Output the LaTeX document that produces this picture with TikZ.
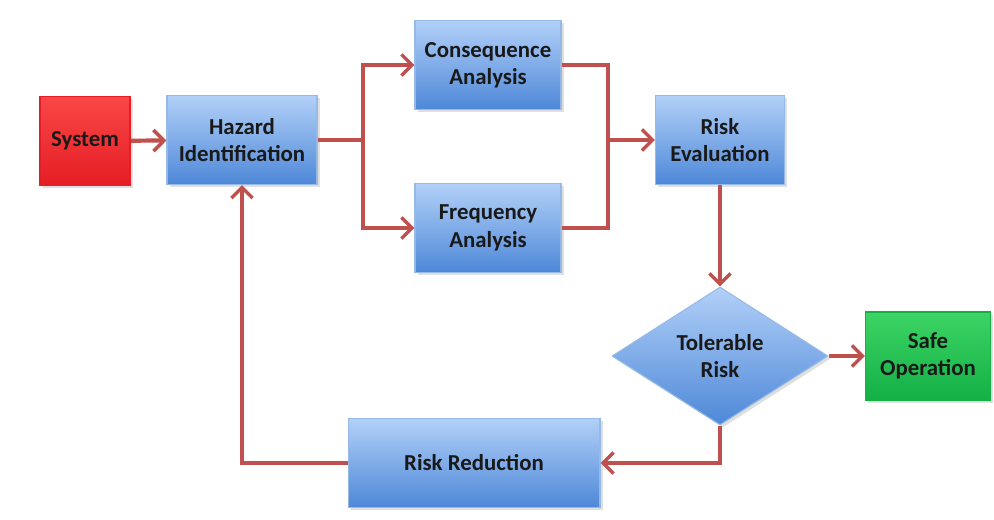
\documentclass[tikz,border=0pt]{standalone}
\usepackage{fontspec}
\setmainfont{Carlito}
\usetikzlibrary{arrows.meta,shapes.geometric,shadows}
\definecolor{linkred}{RGB}{192,80,77}
\definecolor{boxtop}{RGB}{178,208,248}
\definecolor{boxbot}{RGB}{78,136,216}
\definecolor{boxedge}{RGB}{150,185,230}
\definecolor{systop}{RGB}{250,70,70}
\definecolor{sysbot}{RGB}{228,30,36}
\definecolor{safetop}{RGB}{60,212,100}
\definecolor{safebot}{RGB}{20,176,70}

\begin{document}
\begin{tikzpicture}[x=0.02cm, y=-0.02cm,
    >={Straight Barb[length=6pt,width=12pt,line width=2pt]},
    every node/.style={font=\bfseries\fontsize{13}{15.5}\selectfont, text=black!90, align=center},
    box/.style={rectangle, draw=boxedge, line width=0.6pt, top color=boxtop, bottom color=boxbot,
        minimum height=1.78cm, inner sep=2pt,
        drop shadow={opacity=0.25, shadow xshift=1.5pt, shadow yshift=-1.5pt}},
    link/.style={draw=linkred, line width=2.4pt}]

\useasboundingbox (0,0) rectangle (994,520);

% Kasten

\node[box, top color=systop, bottom color=sysbot, draw=sysbot, minimum width=1.8cm] (sys) at (85,141) {System};

\node[box, minimum width=3cm] (haz) at (242,140) {Hazard\\Identification};

\node[box, minimum width=2.92cm] (cons) at (488,65) {Consequence\\Analysis};

\node[box, minimum width=2.92cm] (freq) at (488,228) {Frequency\\Analysis};

\node[box, minimum width=2.58cm] (eval) at (720,140) {Risk\\Evaluation};

\node[box, shape=diamond, minimum width=4.32cm, minimum height=2.76cm, inner sep=0pt] (tol) at (720,356) {Tolerable\\Risk};

\node[box, top color=safetop, bottom color=safebot, draw=safebot, minimum width=2.5cm, minimum height=1.76cm] (safe) at (928,356) {Safe\\Operation};

\node[box, minimum width=5.04cm] (red) at (474,463) {Risk Reduction};

% Verbindungen

\coordinate (split) at (363,140);
\coordinate (join) at (608,140);

\draw[link,->] (sys) -- (haz);
\draw[link] (haz) -- (split);
\draw[link,->] (split) |- (cons);
\draw[link,->] (split) |- (freq);
\draw[link] (cons) -| (join);
\draw[link] (freq) -| (join);
\draw[link,->] (join) -- (eval);
\draw[link,->] (eval) -- (tol);
\draw[link,->] (tol) -- (safe);
\draw[link,->] (tol.south) |- (red);
\draw[link,->] (red) -| (haz);

\end{tikzpicture}
\end{document}
